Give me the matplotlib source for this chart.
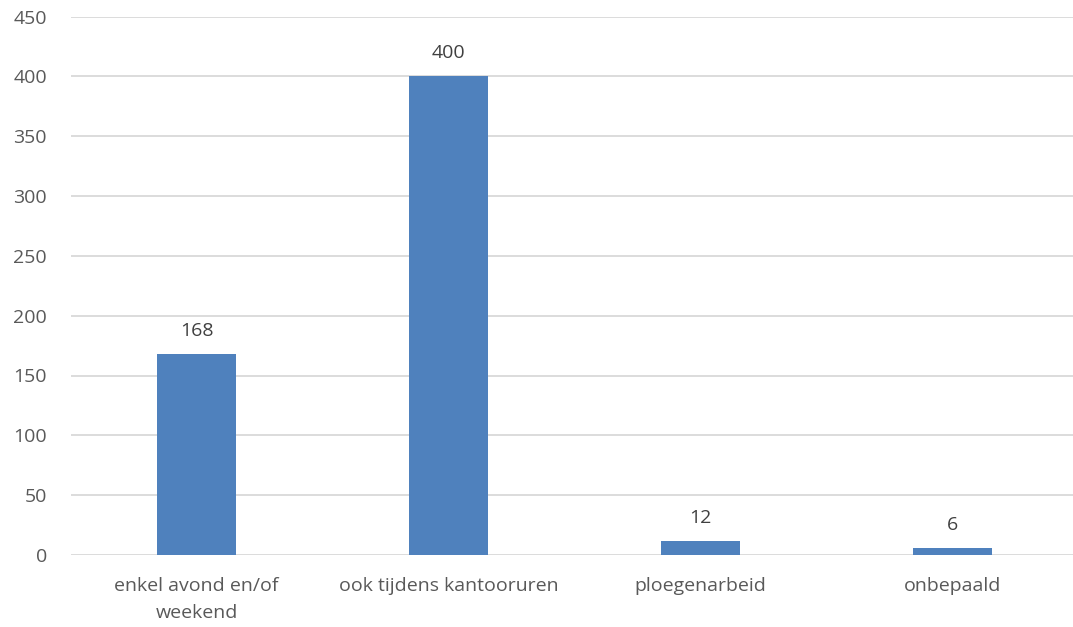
import matplotlib
matplotlib.use("Agg")
import matplotlib.pyplot as plt

categories = ["enkel avond en/of\nweekend", "ook tijdens kantooruren", "ploegenarbeid", "onbepaald"]
values = [168, 400, 12, 6]
yticks = [0, 50, 100, 150, 200, 250, 300, 350, 400, 450]

plt.rcParams['font.family'] = ['Open Sans', 'DejaVu Sans']
text_color = "#595959"

fig = plt.figure(figsize=(10.73, 6.27), dpi=100)
ax = fig.add_axes([70.5/1073, 72/627, 1008/1073, 538.5/627])
x = list(range(len(categories)))
ax.bar(x, values, width=0.313, color="#4F81BD", zorder=3)
for xi, v in zip(x, values):
    ax.annotate(str(v), (xi, v), xytext=(0, 10), textcoords="offset points",
                ha="center", va="bottom", fontsize=14, color="#404040")
ax.set_xlim(-0.5, len(categories) - 0.5)
ax.set_ylim(0, 450)
ax.set_yticks(yticks)
ax.set_xticks(x)
ax.set_xticklabels(categories, fontsize=14, color=text_color, linespacing=1.6)
ax.tick_params(axis="y", labelsize=14, labelcolor=text_color, length=0, pad=17)
ax.tick_params(axis="x", length=0, pad=16)
ax.grid(axis="y", color="#D9D9D9", linewidth=1.3, zorder=0)
for s in ax.spines.values():
    s.set_visible(False)
fig.savefig("out.png", dpi=100, facecolor="white")
